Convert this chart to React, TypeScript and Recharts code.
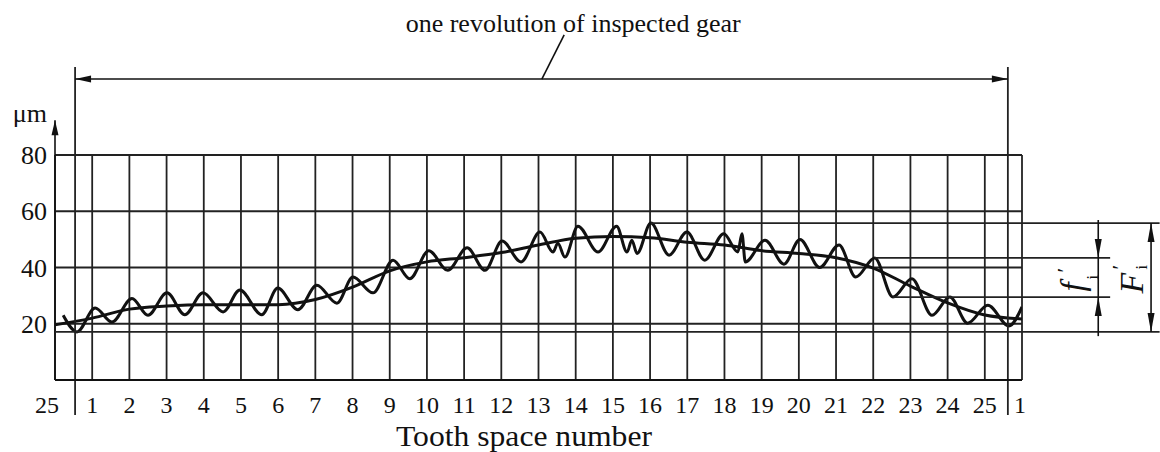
import { ComposedChart, Line, XAxis, YAxis, CartesianGrid, ReferenceLine } from 'recharts';

const serif = "'Liberation Serif', 'Times New Roman', serif";
const ink = '#111';

// tooth space numbers along the bottom (one revolution, wrapping 25 | 1..25 | 1)
const toothLabels = ['25', '1', '2', '3', '4', '5', '6', '7', '8', '9', '10', '11', '12', '13', '14', '15', '16', '17', '18', '19', '20', '21', '22', '23', '24', '25', '1'];
const toothTicks = toothLabels.map((_, i) => i);
const valueTicks = [20, 40, 60, 80];

// long-period component (smooth curve), one value per tooth position
const meanValues = [19.6, 22, 25.2, 26.3, 26.8, 26.8, 26.8, 28.6, 33, 38.8, 42, 43.5, 45.3, 48, 50.4, 51, 50.6, 49, 48, 46, 45, 43.5, 39.8, 33.4, 27.4, 23.1, 21.7];

// measured single-flank composite deviation (wavy trace), read at its turning points
const tracePositions = [0.22, 0.59, 1.08, 1.53, 2.07, 2.5, 3.01, 3.49, 3.98, 4.52, 4.97, 5.56, 5.99, 6.53, 7.04, 7.58, 8.01, 8.55, 9.09, 9.54, 10.05, 10.56, 11.08, 11.56, 12.02, 12.53, 13.04, 13.39, 13.52, 13.71, 14.06, 14.6, 15.1, 15.38, 15.51, 15.65, 16.02, 16.51, 16.99, 17.47, 17.98, 18.36, 18.47, 18.56, 19.09, 19.6, 20.03, 20.56, 21.08, 21.53, 22.04, 22.53, 23.04, 23.58, 24.06, 24.54, 25.08, 25.65, 26];
const traceValues = [23, 17.1, 25.6, 20.6, 29, 23, 31, 23.2, 31, 24.2, 32, 23.2, 32.7, 25, 33.7, 27.3, 36.6, 31, 42.6, 36, 46, 39, 47, 39, 49.4, 42, 52.6, 45.5, 48.6, 43.7, 54.7, 45.5, 54.7, 45.5, 49.7, 45, 55.8, 44.4, 52.6, 42.6, 52, 45.5, 52, 42, 49.7, 41.2, 50, 40, 48, 36.6, 43.4, 29.5, 36, 23, 29.5, 20.2, 26.6, 19.2, 26];

// start / end of one revolution of the inspected gear (tooth units)
const revolution = [0.54, 25.62];

const meanData = meanValues.map((v, t) => ({ t, v }));
const traceData = tracePositions.map((t, i) => ({ t, v: traceValues[i] }));

const totalMax = Math.max(...traceValues);
const totalMin = Math.min(...traceValues);
const swingIdx = tracePositions.indexOf(22.04);
const swingTop = traceValues[swingIdx];
const swingBottom = traceValues[swingIdx + 1];

function head(x: number, y: number, dx: number, dy: number, len = 16, hw = 3.5) {
  const n = Math.hypot(dx, dy) || 1;
  const ux = dx / n;
  const uy = dy / n;
  const bx = x - ux * len;
  const by = y - uy * len;
  return <polygon points={`${x},${y} ${bx - uy * hw},${by + ux * hw} ${bx + uy * hw},${by - ux * hw}`} fill={ink} />;
}

const arrow = (start: boolean, end: boolean, extra?: (p: any) => any, len = 16) => (p: any) => {
  const { x1, y1, x2, y2 } = p;
  return (
    <g>
      <line x1={x1} y1={y1} x2={x2} y2={y2} stroke={ink} strokeWidth={1.6} />
      {start && head(x1, y1, x1 - x2, y1 - y2, len)}
      {end && head(x2, y2, x2 - x1, y2 - y1, len)}
      {extra && extra(p)}
    </g>
  );
};

function ToothTick(props: any) {
  const { x, y, payload } = props;
  const i = payload.value as number;
  const shift = i === 0 ? -8 : i === toothLabels.length - 1 ? -2 : 0;
  return (
    <text x={x + shift} y={y} dy="0.71em" textAnchor="middle" fontSize={24} fill={ink} fontFamily={serif}>
      {toothLabels[i]}
    </text>
  );
}

function ValueTick(props: any) {
  const { x, y, payload } = props;
  return (
    <text x={x} y={y} dy="0.35em" textAnchor="end" fontSize={26} fill={ink} fontFamily={serif}>
      {payload.value}
    </text>
  );
}

const thin = { stroke: '#222', strokeWidth: 1.8 };

export default function App() {
  return (
    <div style={{ width: 1160, height: 452, background: '#fff' }}>
      <style>{'body{margin:0}'}</style>
      <ComposedChart width={1160} height={452} margin={{ top: 155, right: 138, left: 0, bottom: 0 }}>
        <CartesianGrid stroke="#222" strokeWidth={1.8} />
        <XAxis
          type="number"
          dataKey="t"
          domain={[0, 26]}
          ticks={toothTicks}
          interval={0}
          allowDataOverflow
          height={72}
          tickSize={14}
          tickMargin={2}
          tickLine={false}
          axisLine={{ stroke: ink, strokeWidth: 2 }}
          tick={<ToothTick />}
          label={{
            content: (p: any) => {
              const vb = p.viewBox ?? { x: 55, y: 380, width: 967 };
              return (
                <text
                  x={vb.x + vb.width * 0.485}
                  y={vb.y + 65.5}
                  textAnchor="middle"
                  fontSize={29.5}
                  textLength={256}
                  lengthAdjust="spacingAndGlyphs"
                  fill={ink}
                  fontFamily={serif}
                >
                  Tooth space number
                </text>
              );
            },
          }}
        />
        <YAxis
          type="number"
          domain={[0, 80]}
          ticks={valueTicks}
          allowDataOverflow
          width={55}
          tickSize={6}
          tickMargin={2}
          tickLine={false}
          axisLine={false}
          tick={<ValueTick />}
        />
        <Line data={meanData} dataKey="v" type="monotone" stroke={ink} strokeWidth={3} dot={false} activeDot={false} isAnimationActive={false} />
        <Line data={traceData} dataKey="v" type="monotone" stroke={ink} strokeWidth={3} dot={false} activeDot={false} isAnimationActive={false} />

        {/* y axis with arrow and unit */}
        <ReferenceLine
          segment={[{ x: 0, y: 0 }, { x: 0, y: 92.4 }]}
          ifOverflow="visible"
          shape={arrow(false, true, (p) => (
            <text x={p.x2 - 8} y={p.y2 + 2} textAnchor="end" fontSize={26} fill={ink} fontFamily={serif}>μm</text>
          ), 15)}
        />

        {/* one revolution dimension */}
        <ReferenceLine segment={[{ x: revolution[0], y: -12.4 }, { x: revolution[0], y: 111.3 }]} ifOverflow="visible" {...thin} />
        <ReferenceLine segment={[{ x: revolution[1], y: -12.4 }, { x: revolution[1], y: 111.3 }]} ifOverflow="visible" {...thin} />
        <ReferenceLine segment={[{ x: revolution[0], y: 107 }, { x: revolution[1], y: 107 }]} ifOverflow="visible" shape={arrow(true, true)} />
        <ReferenceLine
          segment={[{ x: 13.09, y: 107 }, { x: 13.69, y: 122.7 }]}
          ifOverflow="visible"
          shape={arrow(false, false, (p) => (
            <text x={p.x2 + 9} y={p.y2 - 3} textAnchor="middle" fontSize={26} fill={ink} fontFamily={serif}>one revolution of inspected gear</text>
          ))}
        />

        {/* extension lines for F'i and f'i */}
        <ReferenceLine segment={[{ x: 0, y: totalMin }, { x: 29.7, y: totalMin }]} ifOverflow="visible" {...thin} />
        <ReferenceLine segment={[{ x: 16.02, y: totalMax }, { x: 29.7, y: totalMax }]} ifOverflow="visible" {...thin} />
        <ReferenceLine segment={[{ x: 22.04, y: swingTop }, { x: 28.37, y: swingTop }]} ifOverflow="visible" {...thin} />
        <ReferenceLine segment={[{ x: 22.53, y: swingBottom }, { x: 28.37, y: swingBottom }]} ifOverflow="visible" {...thin} />

        {/* f'i dimension */}
        <ReferenceLine segment={[{ x: 28.05, y: 56.9 }, { x: 28.05, y: swingTop }]} ifOverflow="visible" shape={arrow(false, true, undefined, 19)} />
        <ReferenceLine segment={[{ x: 28.05, y: 15.6 }, { x: 28.05, y: swingBottom }]} ifOverflow="visible" shape={arrow(false, true, undefined, 19)} />
        <ReferenceLine
          segment={[{ x: 28.05, y: swingTop }, { x: 28.05, y: swingBottom }]}
          ifOverflow="visible"
          shape={arrow(false, false, (p) => (
            <text transform={`translate(${p.x1 - 14} ${(p.y1 + p.y2) / 2 + 14}) rotate(-90)`} fill={ink} fontFamily={serif}>
              <tspan x={0} y={0} fontStyle="italic" fontSize={33}>f</tspan>
              <tspan x={12} y={14} fontSize={16}>i</tspan>
              <tspan x={19} y={-12} fontSize={22}>′</tspan>
            </text>
          ))}
        />

        {/* F'i dimension */}
        <ReferenceLine
          segment={[{ x: 29.47, y: totalMax }, { x: 29.47, y: totalMin }]}
          ifOverflow="visible"
          shape={arrow(true, true, (p) => (
            <text transform={`translate(${p.x1 - 8} ${(p.y1 + p.y2) / 2 + 16}) rotate(-90)`} fill={ink} fontFamily={serif}>
              <tspan x={0} y={0} fontStyle="italic" fontSize={34}>F</tspan>
              <tspan x={24} y={4} fontSize={16}>i</tspan>
              <tspan x={24} y={-16} fontSize={22}>′</tspan>
            </text>
          ), 19)}
        />
      </ComposedChart>
    </div>
  );
}
